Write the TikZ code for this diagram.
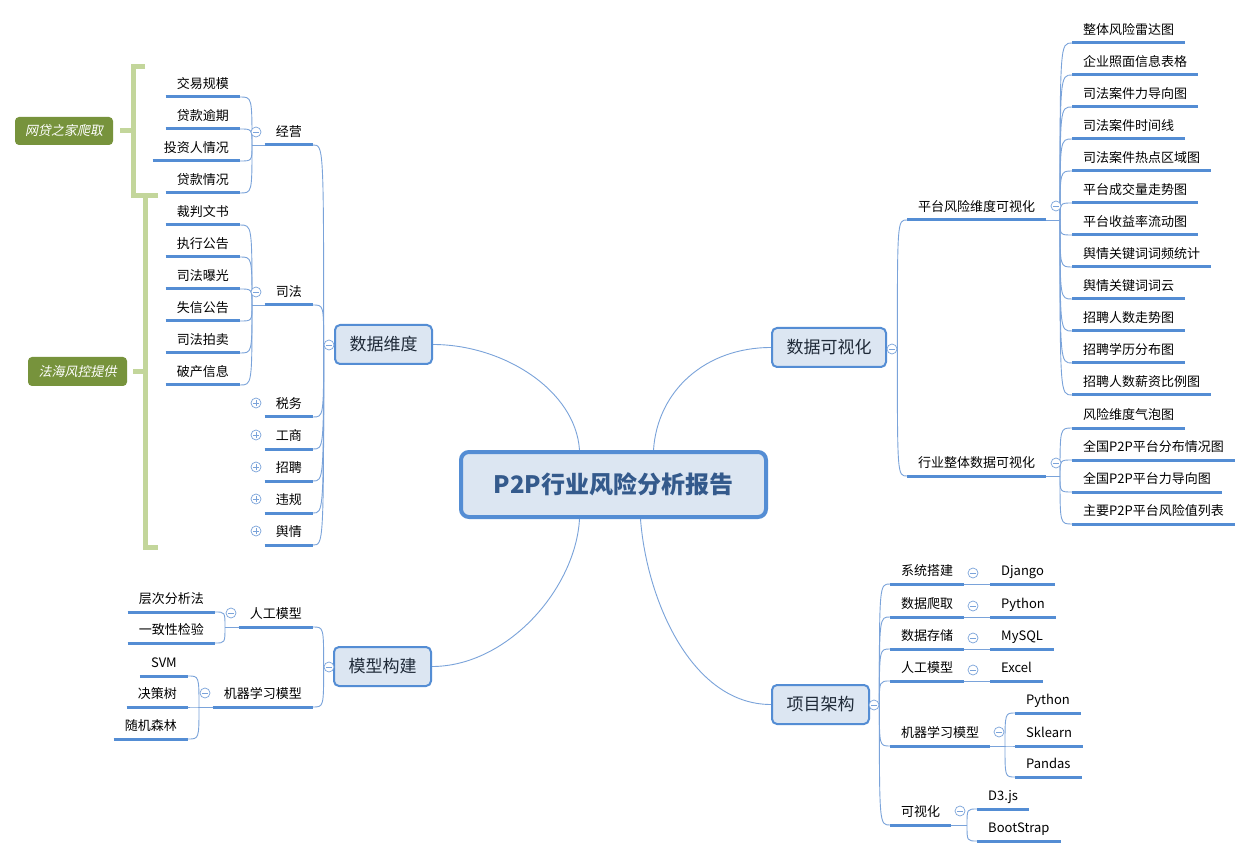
\documentclass[tikz,border=0pt]{standalone}
\usepackage{fontspec}
\setmainfont{Noto Sans CJK SC}
\newfontfamily\slantfont[FakeSlant=0.2]{Noto Sans CJK SC}
\usetikzlibrary{backgrounds,calc}
\definecolor{ubl}{HTML}{548DD4}
\definecolor{cbl}{HTML}{7AA3DA}
\definecolor{boxfill}{HTML}{DCE6F2}
\definecolor{gfill}{HTML}{77933C}
\definecolor{gbr}{HTML}{C3D69B}
\definecolor{roottext}{HTML}{345A8C}
\definecolor{maintext}{HTML}{1F2A38}
\tikzset{
  topic/.style={inner xsep=11pt, inner ysep=0pt, text height=12pt, text depth=8pt,
    font=\fontsize{13}{15}\selectfont, text=black},
  uline/.style={ubl, line width=3pt},
  conn/.style={cbl, line width=0.9pt},
  mainbox/.style={draw=ubl, line width=2pt, fill=boxfill, rounded corners=5pt,
    inner xsep=14.5pt, inner ysep=0pt, minimum height=39pt,
    font=\fontsize{17}{20}\selectfont, text=maintext},
  cbase/.style={circle, draw=cbl, line width=0.7pt, fill=white, minimum size=10pt, inner sep=0pt},
  cminus/.style={cbase, path picture={\draw[cbl,line width=0.7pt]
      ([xshift=-3pt]path picture bounding box.center) -- ([xshift=3pt]path picture bounding box.center);}},
  cplus/.style={cbase, path picture={\draw[cbl,line width=0.7pt]
      ([xshift=-3pt]path picture bounding box.center) -- ([xshift=3pt]path picture bounding box.center)
      ([yshift=-3pt]path picture bounding box.center) -- ([yshift=3pt]path picture bounding box.center);}},
  glabel/.style={fill=gfill, rounded corners=4pt, text=white, inner sep=0pt,
    font=\slantfont\fontsize{13}{15}\selectfont},
  bracket/.style={gbr, line width=5pt},
}
\newcommand\hubcurve[2]{\draw[conn] (#1) .. controls (#1 |- #2) and (#1 |- #2) .. (#2);}
\begin{document}
\begin{tikzpicture}[x=1pt,y=-1pt]
\begin{pgfonlayer}{background}
\fill[white] (0,0) rectangle (1253,858);
\end{pgfonlayer}
\useasboundingbox (0,0) rectangle (1253,858);

% root and main topics
\node[draw=ubl, line width=4pt, fill=boxfill, rounded corners=8pt, minimum width=305pt,
  minimum height=65pt, inner sep=0pt, font=\bfseries\fontsize{24}{28}\selectfont, text=roottext]
  (root) at (613.5,484.5) {P2P行业风险分析报告};
\node[mainbox, anchor=east] (dw) at (433,344.5) {数据维度};
\node[mainbox, anchor=east] (model) at (432,666.5) {模型构建};
\node[mainbox, anchor=west] (vis) at (771,347.5) {数据可视化};
\node[mainbox, anchor=west] (arch) at (771,704.5) {项目架构};

\node[cminus] (dwc) at (329,345) {};
\node[cminus] (mc) at (329,667) {};
\node[cminus] (vc) at (892,349) {};
\node[cminus] (ac) at (874,705) {};

% ---------- 数据维度 ----------
\foreach \n/\t/\y in {jy/经营/145, sf/司法/305, sw/税务/417, gs/工商/449, zp/招聘/481, wg/违规/513, yq/舆情/545}
  \node[topic, anchor=south east] (\n) at (313,\y) {\t};
\node[cminus] (jyc) at (256,132) {};
\node[cminus] (sfc) at (256,292) {};
\foreach \y in {403,435,467,499,531} \node[cplus] at (256,\y) {};
\foreach \n/\t/\y in {jy1/交易规模/97, jy2/贷款逾期/129, jy3/投资人情况/161, jy4/贷款情况/193}
  \node[topic, anchor=south east] (\n) at (240,\y) {\t};
\foreach \n/\t/\y in {sf1/裁判文书/225, sf2/执行公告/257, sf3/司法曝光/289, sf4/失信公告/321, sf5/司法拍卖/353, sf6/破产信息/385}
  \node[topic, anchor=south east] (\n) at (240,\y) {\t};
\coordinate (jyh) at (252,145);
\coordinate (sfh) at (252,305);

% ---------- 模型构建 ----------
\node[topic, anchor=south east] (rg) at (313,627) {人工模型};
\node[topic, anchor=south east] (jq) at (313,707) {机器学习模型};
\node[cminus] (rgc) at (231,613) {};
\node[cminus] (jqc) at (205,693) {};
\node[topic, anchor=south east] (rg1) at (215,612) {层次分析法};
\node[topic, anchor=south east] (rg2) at (215,643) {一致性检验};
\node[topic, anchor=south east] (jq1) at (188,676) {SVM};
\node[topic, anchor=south east] (jq2) at (188,707) {决策树};
\node[topic, anchor=south east] (jq3) at (188,739) {随机森林};
\coordinate (rgh) at (225,627);
\coordinate (jqh) at (199,707);

% ---------- 数据可视化 ----------
\node[topic, anchor=south west] (pt) at (907,220) {平台风险维度可视化};
\node[topic, anchor=south west] (hy) at (907,476) {行业整体数据可视化};
\node[cminus] (ptc) at (1056,206) {};
\node[cminus] (hyc) at (1056,463) {};
\foreach \n/\t/\y in {p1/整体风险雷达图/43, p2/企业照面信息表格/75, p3/司法案件力导向图/107, p4/司法案件时间线/139,
  p5/司法案件热点区域图/171, p6/平台成交量走势图/203, p7/平台收益率流动图/235, p8/舆情关键词词频统计/267,
  p9/舆情关键词词云/299, p10/招聘人数走势图/331, p11/招聘学历分布图/363, p12/招聘人数薪资比例图/395}
  \node[topic, anchor=south west] (\n) at (1072,\y) {\t};
\foreach \n/\t/\y in {h1/风险维度气泡图/428, h2/全国P2P平台分布情况图/460, h3/全国P2P平台力导向图/492, h4/主要P2P平台风险值列表/524}
  \node[topic, anchor=south west] (\n) at (1072,\y) {\t};
\coordinate (pth) at (1060,220);
\coordinate (hyh) at (1060,476);

% ---------- 项目架构 ----------
\foreach \n/\t/\y in {a1/系统搭建/584, a2/数据爬取/617, a3/数据存储/649, a4/人工模型/681, a5/机器学习模型/746, a6/可视化/825}
  \node[topic, anchor=south west] (\n) at (890,\y) {\t};
\foreach \n/\t/\y in {b1/Django/584, b2/Python/617, b3/MySQL/649, b4/Excel/681}
  \node[topic, anchor=south west] (\n) at (990,\y) {\t};
\foreach \y in {573,606,638,670} \node[cminus] at (973,\y) {};
\node[cminus] (a5c) at (999,732) {};
\node[cminus] (a6c) at (960,811) {};
\node[topic, anchor=south west] (m1) at (1015,713) {Python};
\node[topic, anchor=south west] (m2) at (1015,746) {Sklearn};
\node[topic, anchor=south west] (m3) at (1015,777) {Pandas};
\node[topic, anchor=south west] (v1) at (977,809) {D3.js};
\node[topic, anchor=south west] (v2) at (977,841) {BootStrap};
\coordinate (a5h) at (1005,746);
\coordinate (a6h) at (967,825);

% ---------- labels and brackets ----------
\node[glabel, minimum width=98pt, minimum height=28pt] (wj) at (64,131) {网贷之家爬取};
\node[glabel, minimum width=99pt, minimum height=29pt] (fh) at (77.5,371.5) {法海风控提供};
\draw[bracket] (145,67) -- (133,67) -- (133,196) -- (158,196);
\draw[bracket] (145,196) -- (145,547) -- (158,547);
\draw[bracket] ([xshift=7pt]wj.east) -- (133,131);
\draw[bracket] ([xshift=6pt]fh.east) -- (145,371.5);

% ---------- underlines ----------
\foreach \n in {jy,sf,sw,gs,zp,wg,yq,jy1,jy2,jy3,jy4,sf1,sf2,sf3,sf4,sf5,sf6,rg,jq,rg1,rg2,jq1,jq2,jq3,
  pt,hy,p1,p2,p3,p4,p5,p6,p7,p8,p9,p10,p11,p12,h1,h2,h3,h4,a1,a2,a3,a4,a5,a6,b1,b2,b3,b4,m1,m2,m3,v1,v2}
  \draw[uline] (\n.south west) -- (\n.south east);

% ---------- connectors ----------
\begin{pgfonlayer}{background}
\draw[conn] (dw.east) .. controls +(70,0) and +(-4,-60) .. ([xshift=-34pt]root.north);
\draw[conn] (vis.west) .. controls +(-65,0) and +(4,-60) .. ([xshift=40pt]root.north);
\draw[conn] (model.east) .. controls +(75,0) and +(-4,70) .. ([xshift=-34pt]root.south);
\draw[conn] (arch.west) .. controls +(-80,0) and +(6,80) .. ([xshift=27pt]root.south);

\draw[conn] (dw.west) -- (dwc.east);
\draw[conn] (model.west) -- (mc.east);
\draw[conn] (vis.east) -- (vc.west);
\draw[conn] (arch.east) -- (ac.west);

\foreach \n in {jy,sf,sw,gs,zp,wg,yq} {\hubcurve{dwc.west}{\n.south east}}
\foreach \n in {rg,jq} {\hubcurve{mc.west}{\n.south east}}
\foreach \n in {pt,hy} {\hubcurve{vc.east}{\n.south west}}
\foreach \n in {a1,a2,a3,a4,a5,a6} {\hubcurve{ac.east}{\n.south west}}

\draw[conn] (jy.south west) -- (jyh);
\foreach \n in {jy1,jy2,jy3,jy4} {\hubcurve{jyh}{\n.south east}}
\draw[conn] (sf.south west) -- (sfh);
\foreach \n in {sf1,sf2,sf3,sf4,sf5,sf6} {\hubcurve{sfh}{\n.south east}}
\draw[conn] (rg.south west) -- (rgh);
\foreach \n in {rg1,rg2} {\hubcurve{rgh}{\n.south east}}
\draw[conn] (jq.south west) -- (jqh);
\foreach \n in {jq1,jq2,jq3} {\hubcurve{jqh}{\n.south east}}
\draw[conn] (pt.south east) -- (pth);
\foreach \n in {p1,p2,p3,p4,p5,p6,p7,p8,p9,p10,p11,p12} {\hubcurve{pth}{\n.south west}}
\draw[conn] (hy.south east) -- (hyh);
\foreach \n in {h1,h2,h3,h4} {\hubcurve{hyh}{\n.south west}}
\draw[conn] (a1.south east) -- (b1.south west);
\draw[conn] (a2.south east) -- (b2.south west);
\draw[conn] (a3.south east) -- (b3.south west);
\draw[conn] (a4.south east) -- (b4.south west);
\draw[conn] (a5.south east) -- (a5h);
\foreach \n in {m1,m2,m3} {\hubcurve{a5h}{\n.south west}}
\draw[conn] (a6.south east) -- (a6h);
\foreach \n in {v1,v2} {\hubcurve{a6h}{\n.south west}}
\end{pgfonlayer}
\end{tikzpicture}
\end{document}
